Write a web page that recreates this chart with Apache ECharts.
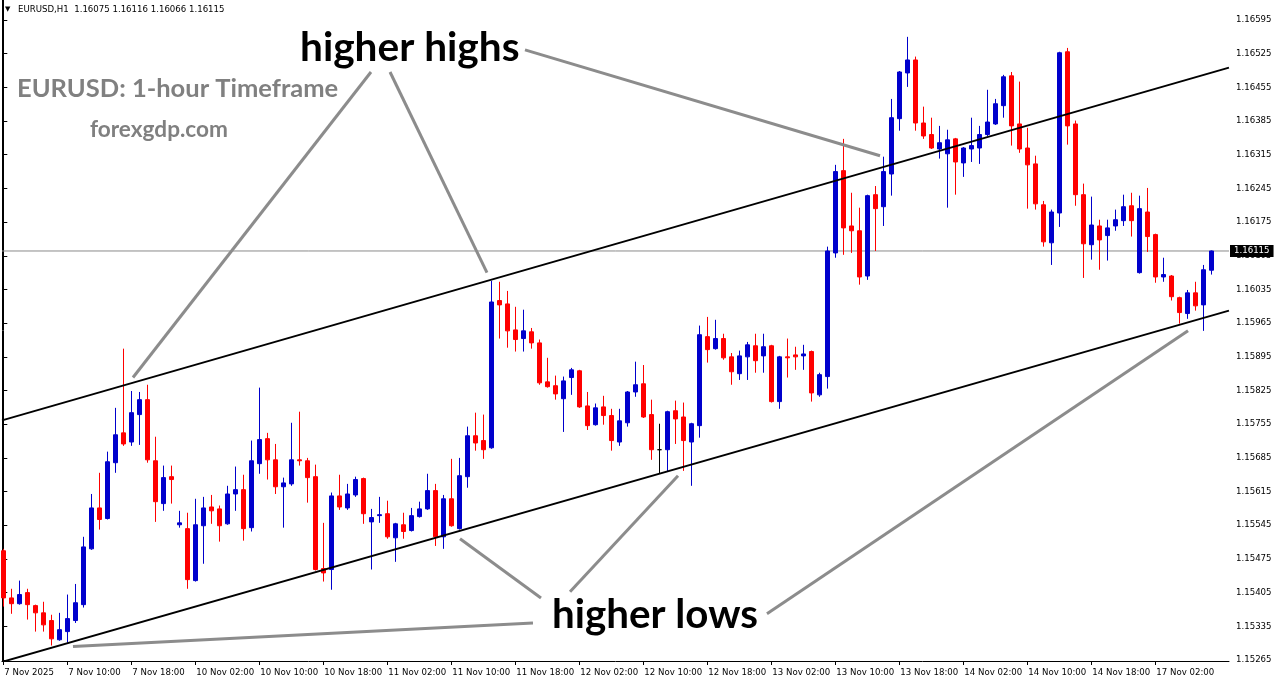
<!DOCTYPE html>
<html>
<head>
<meta charset="utf-8">
<script src="https://cdn.jsdelivr.net/npm/echarts@6/dist/echarts.min.js"></script>
<style>
html,body{margin:0;padding:0;background:#fff;}
#chart{width:1276px;height:684px;}
</style>
</head>
<body>
<div id="chart"></div>
<script>
// ---- data (EURUSD H1, 7 Nov 2025 02:00 .. 17 Nov 2025 09:00) ----
const xTickIdx = [0,8,16,24,32,40,48,56,64,72,80,88,96,104,112,120,128,136,144];
const xTickLabels = ["7 Nov 2025","7 Nov 10:00","7 Nov 18:00","10 Nov 02:00","10 Nov 10:00","10 Nov 18:00","11 Nov 02:00","11 Nov 10:00","11 Nov 18:00","12 Nov 02:00","12 Nov 10:00","12 Nov 18:00","13 Nov 02:00","13 Nov 10:00","13 Nov 18:00","14 Nov 02:00","14 Nov 10:00","14 Nov 18:00","17 Nov 02:00"];
const yTickLabels = ["1.15265","1.15335","1.15405","1.15475","1.15545","1.15615","1.15685","1.15755","1.15825","1.15895","1.15965","1.16035","1.16105","1.16175","1.16245","1.16315","1.16385","1.16455","1.16525","1.16595"];

const openP = [1.15492,1.15394,1.15382,1.15405,1.15378,1.15363,1.15347,1.15307,1.15324,1.15347,
1.15380,1.15496,1.15581,1.15559,1.15675,1.15737,1.15718,1.15775,1.15806,1.15679,
1.15590,1.15646,1.15546,1.15538,1.15430,1.15544,1.15583,1.15579,1.15548,1.15610,
1.15619,1.15540,1.15673,1.15725,1.15681,1.15625,1.15631,1.15681,1.15679,1.15646,
1.15455,1.15453,1.15606,1.15581,1.15608,1.15642,1.15552,1.15565,1.15569,1.15519,
1.15546,1.15534,1.15563,1.15579,1.15617,1.15521,1.15600,1.15538,1.15646,1.15731,
1.15721,1.15706,1.16012,1.16005,1.15951,1.15933,1.15947,1.15924,1.15843,1.15835,
1.15808,1.15852,1.15866,1.15793,1.15754,1.15791,1.15773,1.15718,1.15758,1.15822,
1.15839,1.15775,1.15702,1.15702,1.15783,1.15770,1.15718,1.15752,1.15937,1.15912,
1.15933,1.15895,1.15860,1.15895,1.15918,1.15897,1.15918,1.15802,1.15895,1.15899,
1.15897,1.15906,1.15816,1.15854,1.16111,1.16282,1.16167,1.16157,1.16063,1.16232,
1.16207,1.16275,1.16390,1.16485,1.16512,1.16381,1.16357,1.16327,1.16317,1.16348,
1.16298,1.16327,1.16329,1.16357,1.16379,1.16417,1.16479,1.16379,1.16329,1.16296,
1.16211,1.16132,1.16194,1.16529,1.16379,1.16232,1.16128,1.16167,1.16147,1.16167,
1.16178,1.16209,1.16070,1.16196,1.16149,1.16061,1.16063,1.16018,1.15985,1.16028,
1.16003,1.16075];
const highP = [1.15496,1.15413,1.15430,1.15413,1.15380,1.15386,1.15359,1.15363,1.15401,1.15423,
1.15521,1.15610,1.15654,1.15698,1.15789,1.15912,1.15824,1.15822,1.15837,1.15729,
1.15669,1.15669,1.15575,1.15571,1.15600,1.15604,1.15608,1.15586,1.15627,1.15667,
1.15650,1.15721,1.15831,1.15737,1.15714,1.15644,1.15758,1.15781,1.15685,1.15671,
1.15550,1.15613,1.15650,1.15631,1.15646,1.15644,1.15579,1.15604,1.15596,1.15550,
1.15571,1.15581,1.15594,1.15652,1.15631,1.15608,1.15683,1.15685,1.15750,1.15779,
1.15775,1.16053,1.16051,1.16032,1.15999,1.15993,1.15955,1.15931,1.15893,1.15856,
1.15854,1.15872,1.15868,1.15822,1.15798,1.15814,1.15787,1.15787,1.15824,1.15885,
1.15878,1.15806,1.15756,1.15783,1.15804,1.15800,1.15758,1.15960,1.15978,1.15972,
1.15943,1.15903,1.15908,1.15926,1.15943,1.15943,1.15920,1.15897,1.15933,1.15916,
1.15920,1.15908,1.15862,1.16124,1.16294,1.16348,1.16236,1.16205,1.16232,1.16250,
1.16311,1.16431,1.16489,1.16560,1.16519,1.16415,1.16392,1.16375,1.16367,1.16350,
1.16331,1.16392,1.16375,1.16450,1.16431,1.16481,1.16487,1.16467,1.16371,1.16313,
1.16219,1.16201,1.16529,1.16537,1.16386,1.16255,1.16228,1.16180,1.16180,1.16201,
1.16232,1.16236,1.16230,1.16246,1.16151,1.16101,1.16065,1.16020,1.16034,1.16051,
1.16086,1.16116];
const lowP = [1.15376,1.15361,1.15380,1.15349,1.15324,1.15324,1.15295,1.15305,1.15301,1.15342,
1.15374,1.15494,1.15536,1.15557,1.15654,1.15710,1.15710,1.15712,1.15675,1.15552,
1.15575,1.15590,1.15540,1.15413,1.15428,1.15465,1.15548,1.15511,1.15546,1.15575,
1.15513,1.15532,1.15652,1.15640,1.15610,1.15540,1.15627,1.15669,1.15592,1.15451,
1.15428,1.15411,1.15577,1.15577,1.15604,1.15548,1.15453,1.15550,1.15517,1.15469,
1.15517,1.15532,1.15561,1.15577,1.15502,1.15496,1.15542,1.15536,1.15623,1.15700,
1.15683,1.15704,1.15933,1.15914,1.15906,1.15906,1.15912,1.15837,1.15831,1.15806,
1.15739,1.15816,1.15789,1.15743,1.15752,1.15754,1.15700,1.15710,1.15750,1.15812,
1.15768,1.15681,1.15652,1.15656,1.15714,1.15658,1.15627,1.15727,1.15883,1.15910,
1.15889,1.15837,1.15847,1.15847,1.15862,1.15862,1.15800,1.15787,1.15852,1.15868,
1.15868,1.15802,1.15812,1.15829,1.16101,1.16107,1.16111,1.16045,1.16055,1.16115,
1.16167,1.16230,1.16365,1.16456,1.16365,1.16348,1.16327,1.16307,1.16205,1.16232,
1.16269,1.16300,1.16296,1.16354,1.16377,1.16392,1.16334,1.16319,1.16203,1.16201,
1.16124,1.16086,1.16165,1.16336,1.16209,1.16059,1.16097,1.16076,1.16095,1.16157,
1.16167,1.16145,1.16068,1.16113,1.16049,1.16051,1.16012,1.15964,1.15974,1.15991,
1.15949,1.16066];
const closeP = [1.15394,1.15382,1.15401,1.15380,1.15363,1.15338,1.15309,1.15328,1.15351,1.15384,
1.15500,1.15581,1.15557,1.15677,1.15733,1.15714,1.15779,1.15806,1.15681,1.15594,
1.15644,1.15640,1.15550,1.15432,1.15546,1.15581,1.15575,1.15544,1.15610,1.15619,
1.15538,1.15679,1.15723,1.15681,1.15625,1.15633,1.15681,1.15679,1.15644,1.15453,
1.15446,1.15606,1.15583,1.15610,1.15640,1.15569,1.15561,1.15567,1.15521,1.15548,
1.15532,1.15565,1.15579,1.15617,1.15521,1.15600,1.15544,1.15648,1.15731,1.15716,
1.15702,1.16009,1.16003,1.15949,1.15931,1.15949,1.15924,1.15841,1.15833,1.15818,
1.15845,1.15868,1.15791,1.15752,1.15789,1.15773,1.15721,1.15762,1.15822,1.15837,
1.15770,1.15702,1.15702,1.15781,1.15766,1.15721,1.15756,1.15941,1.15910,1.15933,
1.15893,1.15864,1.15897,1.15920,1.15887,1.15916,1.15802,1.15895,1.15893,1.15895,
1.15901,1.15820,1.15858,1.16115,1.16280,1.16163,1.16157,1.16061,1.16230,1.16203,
1.16280,1.16392,1.16487,1.16512,1.16381,1.16354,1.16329,1.16340,1.16346,1.16300,
1.16329,1.16334,1.16357,1.16383,1.16421,1.16477,1.16375,1.16327,1.16294,1.16213,
1.16134,1.16196,1.16527,1.16375,1.16232,1.16130,1.16169,1.16138,1.16163,1.16180,
1.16207,1.16178,1.16203,1.16145,1.16061,1.16066,1.16020,1.15987,1.16028,1.16001,
1.16076,1.16115];

const currentPrice = 1.16115;
const headerText = "EURUSD,H1  1.16075 1.16116 1.16066 1.16115";

// channel lines: [barIndex, price] anchors
const upperChannel = [[-0.16, 1.15763], [153.21, 1.16496]];
const lowerChannel = [[-0.16, 1.15261], [153.21, 1.15991]];
// grey pointer lines: [barIndex, price] anchors
const pointerLines = [
  [[45.96, 1.16487], [16.21, 1.15852]],
  [[48.34, 1.16487], [60.46, 1.16070]],
  [[65.21, 1.16533], [109.59, 1.16313]],
  [[57.09, 1.15517], [67.21, 1.15394]],
  [[84.34, 1.15648], [70.84, 1.15407]],
  [[148.09, 1.15949], [95.46, 1.15361]],
  [[8.71, 1.15293], [66.21, 1.15342]]
];

// ---- chart ----
const X_MIN = -0.1625, X_MAX = 153.2125;
const Y_MIN = 1.152629, Y_MAX = 1.166366;
const candles = openP.map((o, i) => [i, o, closeP[i], lowP[i], highP[i]]);
const yTickVals = yTickLabels.map(Number);
const xLabelMap = {};
xTickIdx.forEach((v, k) => { xLabelMap[v] = xTickLabels[k]; });

const axisFont = 'DejaVu Sans';
const axisFontSize = 8.6;

const series = [{
  type: 'candlestick',
  data: candles,
  barWidth: 4,
  clip: true,
  itemStyle: {
    color: '#0000CC', color0: '#FF0000',
    borderColor: '#0000CC', borderColor0: '#FF0000',
    borderColorDoji: '#000000',
    borderWidth: 1
  },
  z: 3
}, {
  // current bid line
  type: 'line',
  data: [[X_MIN, currentPrice], [X_MAX, currentPrice]],
  symbol: 'none', silent: true, animation: false, clip: false,
  lineStyle: { color: '#8a8a8a', width: 1 },
  endLabel: {
    show: true, distance: 1,
    formatter: () => currentPrice.toFixed(5),
    color: '#fff', backgroundColor: '#000',
    fontFamily: axisFont, fontSize: axisFontSize,
    padding: [2, 4, 1, 4]
  },
  z: 2
}];

[upperChannel, lowerChannel].forEach(l => series.push({
  type: 'line', data: l, symbol: 'none', silent: true, animation: false,
  lineStyle: { color: '#000', width: 2 }, z: 4
}));
pointerLines.forEach(l => series.push({
  type: 'line', data: l, symbol: 'none', silent: true, animation: false,
  lineStyle: { color: '#8c8c8c', width: 3, cap: 'butt' }, z: 5
}));

const chart = echarts.init(document.getElementById('chart'), null, { renderer: 'canvas' });
chart.setOption({
  animation: false,
  backgroundColor: '#ffffff',
  grid: { left: 2, right: 47, top: 0, bottom: 23, containLabel: false },
  xAxis: {
    type: 'value', min: X_MIN, max: X_MAX,
    splitLine: { show: false },
    axisLine: { show: true, onZero: false, lineStyle: { color: '#000', width: 1 } },
    axisTick: { show: true, customValues: xTickIdx, length: 4, lineStyle: { color: '#000' } },
    axisLabel: {
      customValues: xTickIdx,
      formatter: v => xLabelMap[Math.round(v)] || '',
      align: 'left', margin: 7, color: '#000',
      fontFamily: axisFont, fontSize: axisFontSize, padding: [0, 0, 0, 1]
    }
  },
  yAxis: [{
    type: 'value', position: 'right', min: Y_MIN, max: Y_MAX, scale: true,
    splitLine: { show: false },
    axisLine: { show: true, lineStyle: { color: '#000', width: 1 } },
    axisTick: { show: true, customValues: yTickVals, length: 4, lineStyle: { color: '#000' } },
    axisLabel: {
      customValues: yTickVals,
      formatter: v => v.toFixed(5),
      margin: 7, color: '#000',
      fontFamily: axisFont, fontSize: axisFontSize
    }
  }, {
    type: 'value', position: 'left', min: Y_MIN, max: Y_MAX, scale: true,
    splitLine: { show: false },
    axisLine: { show: true, lineStyle: { color: '#000', width: 1 } },
    axisTick: { show: false }, axisLabel: { show: false }
  }],
  series: series,
  graphic: [
    { type: 'text', left: 5, top: 6, z: 10, style: { text: '▼', font: '7px "DejaVu Sans"', fill: '#000' } },
    { type: 'text', x: 18, y: 10, z: 10, style: { text: headerText, font: axisFontSize + 'px "DejaVu Sans"', fill: '#000', textVerticalAlign: 'middle' } },
    { type: 'text', x: 300, y: 48, z: 10, style: { text: 'higher highs', font: 'bold 40.6px Lato', fill: '#000', textVerticalAlign: 'middle' } },
    { type: 'text', x: 552, y: 615, z: 10, style: { text: 'higher lows', font: 'bold 40.3px Lato', fill: '#000', textVerticalAlign: 'middle' } },
    { type: 'text', x: 17, y: 89, z: 10, style: { text: 'EURUSD: 1-hour Timeframe', font: 'bold 25.5px Lato', fill: '#808080', textVerticalAlign: 'middle' } },
    { type: 'text', x: 90, y: 130, z: 10, style: { text: 'forexgdp.com', font: 'bold 22.6px Lato', fill: '#808080', textVerticalAlign: 'middle' } }
  ]
});
</script>
</body>
</html>
